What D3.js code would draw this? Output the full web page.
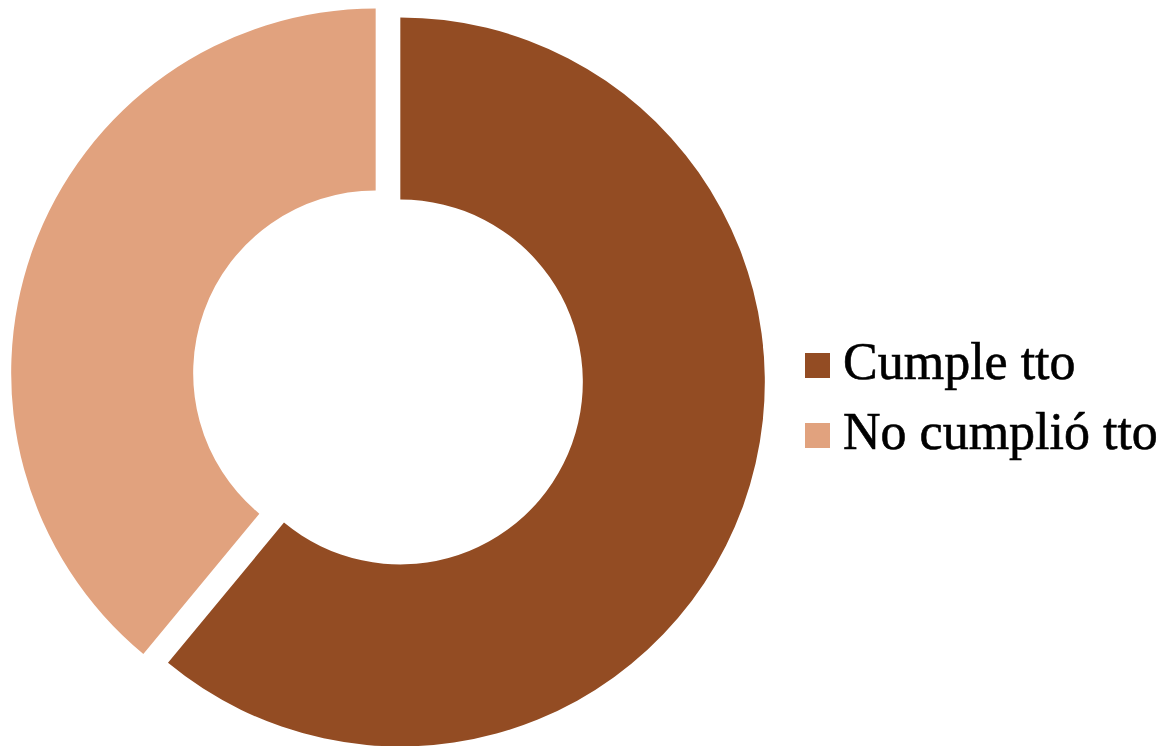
<!DOCTYPE html>
<html><head><meta charset="utf-8">
<script src="https://cdn.jsdelivr.net/npm/d3@7"></script>
<style>html,body{margin:0;padding:0;background:#fff;}</style>
</head><body>
<svg id="c" width="1163" height="746"></svg>
<script>
const categories = ["Cumple tto", "No cumplió tto"];
const values = [61, 39];
const colors = ["#934C23", "#E1A27E"];

const svg = d3.select("#c");
const cx = 388, cy = 377.5, R = 364.5, r = 182.5, explode = 13.1;

const pie = d3.pie().sort(null).value(d => d)(values);
const arc = d3.arc().innerRadius(r).outerRadius(R);

const g = svg.append("g").attr("transform", `translate(${cx},${cy})`);
g.selectAll("path").data(pie).join("path")
  .attr("d", arc)
  .attr("fill", (d, i) => colors[i])
  .attr("transform", d => {
    const a = (d.startAngle + d.endAngle) / 2;
    return `translate(${Math.sin(a) * explode},${-Math.cos(a) * explode})`;
  });

const leg = svg.append("g");
const items = leg.selectAll("g").data(categories).join("g")
  .attr("transform", (d, i) => `translate(805,${353 + i * 70})`);
items.append("rect").attr("width", 25).attr("height", 25).attr("fill", (d, i) => colors[i]);
items.append("text").attr("x", 38).attr("y", 26)
  .attr("font-family", "Liberation Serif, serif").attr("font-size", 52)
  .attr("stroke", "#000").attr("stroke-width", 0.6)
  .attr("fill", "#000").text(d => d);
</script>
</body></html>
